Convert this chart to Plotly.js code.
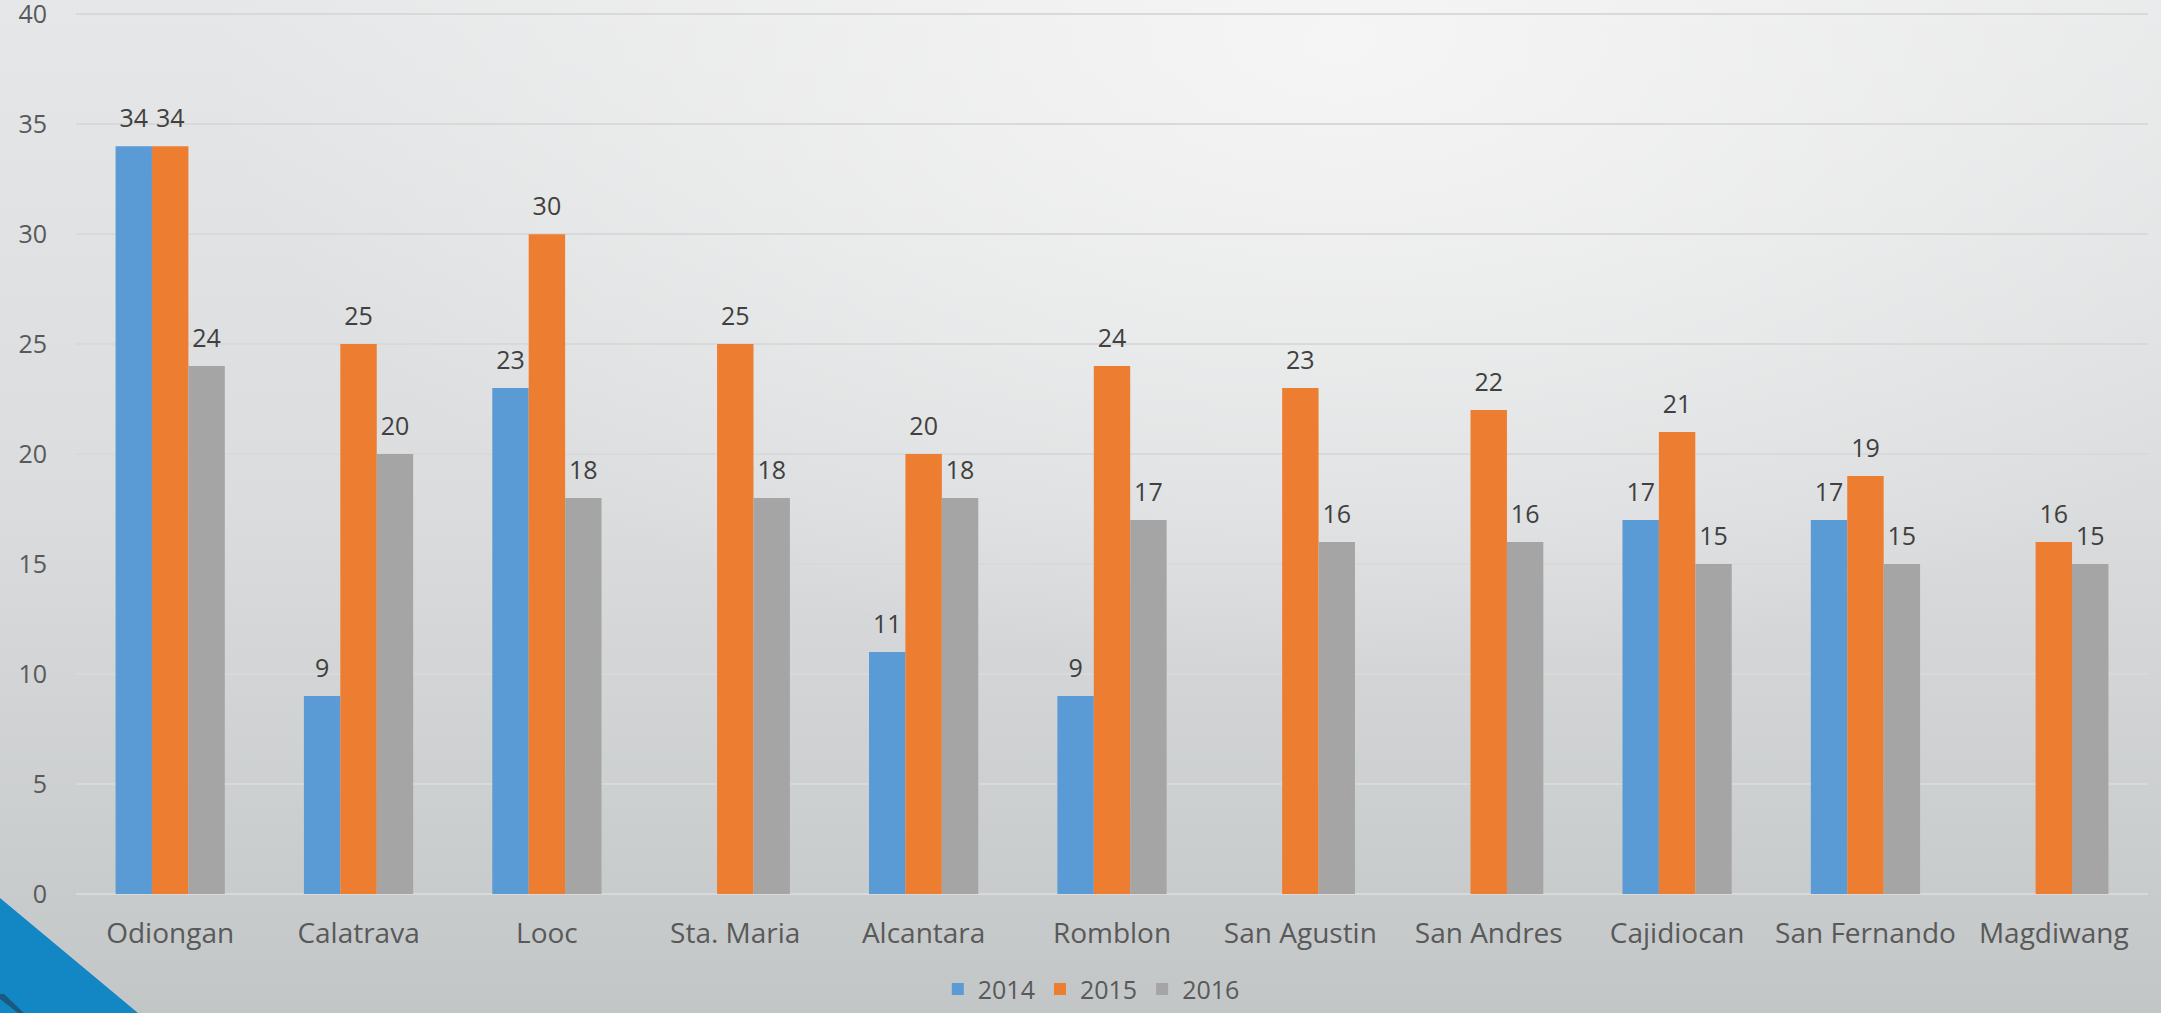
<!DOCTYPE html>
<html>
<head>
<meta charset="utf-8">
<script src="https://cdn.plot.ly/plotly-3.0.1.min.js"></script>
<style>
  html, body { margin: 0; padding: 0; }
  body {
    width: 2161px; height: 1013px; overflow: hidden; position: relative;
    background:
      radial-gradient(ellipse 75% 90% at 62% 4%, rgba(245,245,245,1) 0%, rgba(245,245,245,0) 70%),
      linear-gradient(to bottom, #e6e7e8 0%, #dadcdd 50%, #c3c6c7 100%);
  }
  #tri {
    position: absolute; left: 0; top: 898px; width: 138px; height: 115px;
    background: #1386c4;
    clip-path: polygon(0 0, 100% 100%, 0 100%);
    z-index: 0;
  }
  #stripe {
    position: absolute; left: 0; top: 994px; width: 24px; height: 19px;
    background: #1b5a80;
    clip-path: polygon(0 0, 4px 0, 100% 100%, 18px 100%, 0 5px);
    z-index: 1;
  }
  #chart { position: absolute; left: 0; top: 0; width: 2161px; height: 1013px; z-index: 2; }
</style>
</head>
<body>
<div id="tri"></div>
<div id="stripe"></div>
<div id="chart"></div>
<script>
const categories = ["Odiongan", "Calatrava", "Looc", "Sta. Maria", "Alcantara", "Romblon",
  "San Agustin", "San Andres", "Cajidiocan", "San Fernando", "Magdiwang"];
const seriesNames = ["2014", "2015", "2016"];
const values2014 = [34, 9, 23, null, 11, 9, null, null, 17, 17, null];
const values2015 = [34, 25, 30, 25, 20, 24, 23, 22, 21, 19, 16];
const values2016 = [24, 20, 18, 18, 18, 17, 16, 16, 15, 15, 15];
const yTicks = [0, 5, 10, 15, 20, 25, 30, 35, 40];

const colors = ["#5b9bd5", "#ed7d31", "#a5a5a5"];
const allValues = [values2014, values2015, values2016];
const FONT = "Open Sans, Noto Sans, sans-serif";

const traces = allValues.map((vals, i) => ({
  type: "bar",
  name: seriesNames[i],
  x: categories,
  y: vals,
  marker: { color: colors[i], line: { width: 0 } },
  text: vals.map(v => v === null ? "" : String(v)),
  texttemplate: '<sub>\u00a0</sub><span style="font-size:25px">%{text}</span><sub>\u00a0</sub>',
  textposition: "outside",
  constraintext: "none",
  cliponaxis: false,
  textfont: { family: FONT, size: 40, color: "#404040" },
  hoverinfo: "x+y+name"
}));

const layout = {
  width: 2161, height: 1013,
  margin: { l: 76, r: 13, t: 12, b: 119, autoexpand: false },
  paper_bgcolor: "rgba(0,0,0,0)",
  plot_bgcolor: "rgba(0,0,0,0)",
  barmode: "group",
  bargap: 0.42,
  bargroupgap: 0,
  font: { family: FONT, color: "#595959" },
  xaxis: {
    type: "category",
    automargin: false,
    tickfont: { family: FONT, size: 28, color: "#595959" },
    ticklabelstandoff: 20,
    ticklabeloverflow: "allow",
    showline: false, zeroline: false, showgrid: false,
    ticks: ""
  },
  yaxis: {
    range: [0, 40.1],
    automargin: false,
    tickvals: yTicks,
    ticktext: yTicks.map(String),
    tickfont: { family: FONT, size: 25, color: "#595959" },
    ticklabelstandoff: 28,
    ticklabeloverflow: "allow",
    showgrid: true, gridcolor: "#d9d9d9", gridwidth: 2,
    zeroline: true, zerolinecolor: "#d9d9d9", zerolinewidth: 2,
    showline: false, ticks: ""
  },
  legend: {
    orientation: "h",
    x: 0.49, xanchor: "center",
    y: -0.108, yanchor: "middle",
    font: { family: FONT, size: 25, color: "#595959" },
    bgcolor: "rgba(0,0,0,0)",
    itemwidth: 30
  },
  showlegend: true
};

Plotly.newPlot("chart", traces, layout, { displayModeBar: false, staticPlot: true });
</script>
</body>
</html>
